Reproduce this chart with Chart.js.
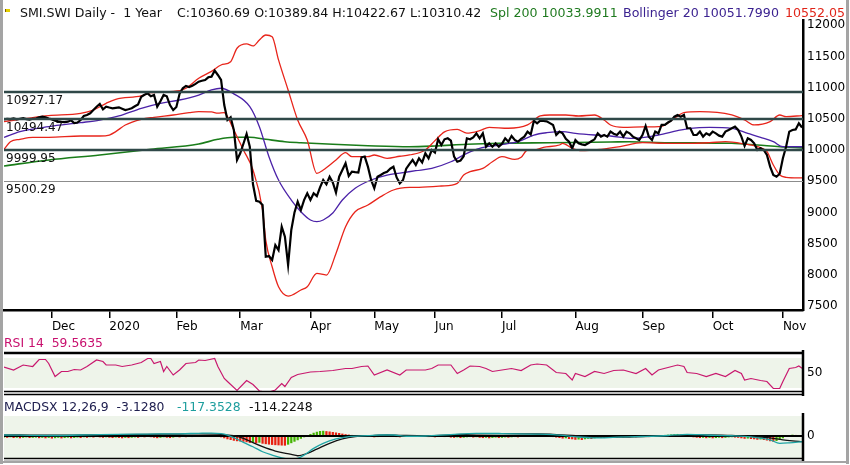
<!DOCTYPE html>
<html><head><meta charset="utf-8">
<script src="https://cdn.jsdelivr.net/npm/chart.js@4.4.0/dist/chart.umd.min.js"></script>
<style>
html,body{margin:0;padding:0;background:#fff;}
#wrap{position:relative;width:850px;height:465px;overflow:hidden;background:#fff;font-family:"DejaVu Sans",sans-serif;}
canvas{position:absolute;left:0;}
.t{position:absolute;font-size:12.6px;line-height:14px;white-space:pre;}
.b{position:absolute;background:#a4a4a4;}
</style></head>
<body><div id="wrap">
<canvas id="cMain" width="850" height="465" style="top:0"></canvas>
<canvas id="cRsi" width="850" height="90" style="top:330px"></canvas>
<canvas id="cMacd" width="850" height="90" style="top:390px"></canvas>
<div class="b" style="left:0;top:0;width:3px;height:464px"></div>
<div class="b" style="left:846px;top:0;width:3px;height:464px"></div>
<div class="b" style="left:0;top:461px;width:849px;height:2px"></div>
<div style="position:absolute;left:5px;top:9px;width:4px;height:3px;background:#e4d000;border-left:1px solid #806000"></div>
<div class="t" style="left:20px;top:6px;color:#111">SMI.SWI Daily -  1 Year</div>
<div class="t" style="left:177px;top:6px;color:#111">C:10360.69 O:10389.84 H:10422.67 L:10310.42</div>
<div class="t" style="left:490px;top:6px;color:#1f7a1f">Spl 200 10033.9911</div>
<div class="t" style="left:623px;top:6px;color:#3b2290">Bollinger 20 10051.7990</div>
<div class="t" style="left:785px;top:6px;color:#e02418">10552.05</div>
<div class="t" style="left:4px;top:336px;color:#c8106e;font-size:12.4px">RSI 14  59.5635</div>
<div class="t" style="left:4px;top:400px;color:#202050;font-size:12.4px">MACDSX 12,26,9  -3.1280</div>
<div class="t" style="left:177px;top:400px;color:#1e9e9e;font-size:12.4px">-117.3528</div>
<div class="t" style="left:249px;top:400px;color:#111;font-size:12.4px">-114.2248</div>
</div>
<script>
// ---------- DATA ----------
const monthLabels = ['Dec','2020','Feb','Mar','Apr','May','Jun','Jul','Aug','Sep','Oct','Nov'];
const monthStart  = [15,33,54,74,96,116,135,156,179,200,222,244];   // trading-day index of month start
const priceTicks  = [7500,8000,8500,9000,9500,10000,10500,11000,11500,12000];
const refLevels   = [10927.17,10494.47,9999.95,9500.29];

// daily close, trading day 0 .. 250
const closeVals = [
10490,10500,10495,10505,10490,10500,10510,10495,10485,10500,
10505,10525,10534,10525,10505,10490,10470,10458,10450,10448,
10454,10475,10432,10440,10480,10545,10561,10588,10640,10694,
10737,10650,10694,10680,10668,10676,10684,10662,10641,10652,
10668,10700,10730,10854,10885,10908,10860,10881,10694,10780,
10881,10860,10720,10641,10690,10900,10989,11026,11010,11030,
11060,11095,11110,11122,11165,11175,11271,11202,11122,10720,
10481,10524,10321,9840,9947,10100,10257,10053,9450,9185,
9172,9118,8290,8300,8237,8477,8397,8770,8610,8157,
8718,9000,9172,9038,9198,9306,9200,9306,9260,9400,
9519,9450,9572,9480,9316,9572,9680,9787,9583,9652,
9645,9640,9883,9895,9733,9520,9386,9572,9600,9630,
9652,9700,9733,9560,9466,9519,9700,9775,9840,9760,
9867,9800,9947,9867,10000,9960,10171,10080,10171,10187,
10149,9893,9812,9830,9900,10187,10171,10200,10267,10187,
10267,10053,10107,10053,10107,10053,10100,10187,10133,10224,
10160,10133,10180,10214,10294,10250,10470,10428,10470,10465,
10460,10430,10401,10240,10294,10267,10180,10133,10027,10160,
10107,10090,10080,10107,10140,10171,10267,10214,10240,10214,
10294,10260,10240,10294,10214,10294,10267,10214,10187,10160,
10240,10385,10214,10160,10294,10267,10401,10401,10440,10470,
10534,10561,10534,10561,10348,10348,10240,10240,10294,10214,
10267,10240,10294,10267,10230,10214,10294,10320,10348,10374,
10321,10214,10064,10187,10160,10107,10000,10027,10000,9920,
9733,9599,9572,9620,9867,10053,10294,10321,10330,10428,
10361];

// Bollinger 20 upper / lower / middle and 200-day average: [day, value]
const bbUpper = [[0,10454],[9,10520],[14,10550],[24,10588],[28,10641],[32,10748],[35,10812],[43,10866],[46,10918],[55,10951],[57,10989],[61,11149],[65,11260],[68,11362],[71,11415],[73,11630],[76,11699],[78,11667],[80,11763],[82,11843],[84,11816],[86,11443],[89,10962],[92,10481],[95,10160],[98,9626],[100,9679],[104,9840],[107,9957],[109,9893],[114,9893],[116,9920],[120,9867],[124,9900],[127,9920],[132,10000],[135,10150],[138,10290],[142,10330],[145,10270],[149,10310],[152,10364],[158,10348],[164,10401],[168,10545],[171,10561],[176,10561],[180,10545],[185,10561],[188,10481],[190,10401],[194,10364],[200,10370],[206,10380],[210,10508],[213,10598],[218,10614],[228,10561],[232,10481],[235,10401],[240,10454],[243,10561],[245,10534],[250,10552]];
const bbLower = [[0,10011],[2,10133],[5,10171],[9,10203],[14,10203],[24,10224],[30,10224],[33,10240],[35,10294],[38,10401],[43,10492],[47,10524],[53,10561],[58,10598],[61,10614],[65,10610],[67,10590],[69,10600],[70,10534],[72,10321],[75,10000],[78,9679],[81,9038],[82,8557],[84,8129],[86,7808],[89,7659],[93,7756],[95,7808],[98,8022],[101,7996],[104,8343],[107,8770],[110,9011],[114,9118],[118,9252],[122,9359],[127,9400],[130,9402],[137,9423],[142,9466],[144,9599],[146,9652],[150,9706],[153,9812],[156,9893],[160,9850],[162,9883],[164,10000],[166,10000],[169,10043],[174,10080],[175,10107],[178,10027],[181,9989],[187,10011],[193,10053],[200,10117],[208,10107],[215,10107],[221,10117],[226,10133],[232,10096],[236,10053],[239,9973],[241,9760],[243,9599],[245,9562],[250,9552]];
const bbMid = [[0,10203],[5,10294],[14,10374],[24,10438],[30,10480],[36,10545],[43,10668],[49,10748],[55,10801],[61,10881],[65,10962],[68,10989],[72,10900],[77,10694],[80,10374],[83,9893],[86,9519],[90,9198],[93,9011],[96,8878],[98,8851],[100,8878],[103,8990],[106,9198],[110,9386],[115,9519],[120,9599],[124,9630],[129,9668],[134,9706],[140,9812],[145,9947],[149,10027],[155,10080],[161,10133],[166,10240],[170,10277],[175,10294],[179,10267],[185,10240],[190,10224],[197,10187],[205,10240],[211,10310],[215,10348],[221,10364],[228,10348],[233,10267],[237,10203],[241,10133],[244,10053],[250,10052]];
const spl200 = [[0,9744],[14,9840],[30,9920],[46,10011],[61,10096],[67,10171],[72,10203],[77,10203],[82,10171],[88,10133],[93,10117],[103,10091],[114,10069],[127,10053],[135,10065],[145,10091],[155,10107],[171,10117],[190,10128],[196,10133],[208,10117],[228,10107],[236,10080],[243,10053],[250,10034]];

// RSI 14: [day, value]
const rsi14 = [[0,62],[3,56],[6,66],[9,63],[11,77],[13,77],[14,69],[16,43],[18,53],[20,53],[22,57],[24,56],[26,63],[29,76],[31,73],[32,66],[35,66],[37,63],[40,66],[43,71],[45,79],[46,79],[47,69],[49,73],[50,53],[51,63],[53,46],[55,56],[57,69],[60,71],[61,76],[63,75],[66,79],[67,63],[69,39],[70,33],[73,15],[76,35],[78,27],[80,14],[81,13],[83,12],[85,16],[87,29],[88,23],[90,41],[92,47],[96,52],[99,53],[103,55],[107,59],[109,59],[112,63],[114,64],[116,46],[120,56],[124,46],[126,56],[130,56],[132,56],[134,59],[136,66],[138,66],[140,66],[142,49],[144,56],[146,64],[149,63],[151,59],[153,53],[156,56],[159,59],[162,55],[165,66],[167,68],[170,66],[173,51],[176,49],[178,36],[179,49],[182,43],[185,53],[188,49],[191,55],[194,56],[198,49],[201,59],[203,46],[205,56],[208,61],[211,66],[213,63],[214,51],[217,49],[220,43],[223,49],[226,43],[229,55],[231,49],[232,36],[234,39],[237,35],[239,33],[241,19],[243,19],[244,33],[246,59],[248,61],[249,64],[250,59.6]];

// MACD 12,26,9: MACD line, signal line ([day, value]) and daily histogram
const macdLine = [[0,20],[15,10],[30,30],[45,40],[55,45],[61,55],[65,60],[68,50],[70,20],[72,-34],[75,-130],[78,-219],[81,-322],[84,-390],[87,-445],[90,-470],[92,-457],[94,-390],[97,-253],[100,-150],[104,-61],[108,-14],[114,6],[118,20],[122,20],[126,-5],[132,0],[140,30],[148,55],[156,50],[165,40],[172,30],[180,-20],[185,-40],[192,-25],[200,-10],[208,10],[214,35],[220,20],[228,5],[234,-20],[240,-80],[243,-150],[246,-140],[250,-117]];
const macdSignal = [[0,25],[15,15],[30,25],[45,35],[55,40],[61,45],[68,35],[72,6],[75,-47],[78,-137],[81,-219],[85,-308],[90,-376],[92,-404],[95,-355],[98,-267],[102,-150],[106,-61],[110,-14],[115,6],[120,20],[126,10],[132,5],[140,20],[148,45],[156,48],[165,42],[172,35],[180,0],[185,-25],[192,-25],[200,-12],[208,0],[214,20],[220,22],[228,10],[234,-5],[240,-40],[244,-80],[247,-100],[250,-114]];
const macdHist = [
-25,-30,-20,-35,-28,-40,-30,-22,-35,-30,
-25,-38,-30,-40,-32,-45,-38,-30,-42,-35,
-28,-40,-33,-25,-35,-20,-30,-18,-25,-15,
-22,-30,-20,-28,-35,-25,-32,-40,-30,-36,
-28,-22,-30,-15,-20,-10,-18,-28,-38,-30,
-20,-28,-35,-25,-15,-22,-10,-18,-8,-15,
-5,-12,5,-3,8,2,10,-5,-20,-40,
-60,-75,-90,-100,-105,-110,-120,-135,-125,-140,
-130,-150,-160,-168,-175,-180,-184,-188,-190,-170,
-140,-110,-80,-50,-20,10,35,60,80,95,
100,92,85,75,65,55,42,30,22,15,
10,5,12,8,0,-10,-20,-15,-10,-5,
-8,-12,-10,-15,-20,-12,-5,0,5,10,
5,-10,-5,-15,-8,-20,-12,-5,-15,-10,
-25,-30,-22,-35,-28,-20,-15,-25,-18,-30,
-35,-28,-40,-32,-25,-35,-30,-22,-28,-20,
-15,-22,-12,-5,-10,5,15,10,20,12,
5,-5,-15,-25,-35,-45,-40,-55,-60,-70,
-65,-75,-60,-50,-55,-40,-30,-35,-25,-20,
-28,-18,-25,-15,-22,-12,-20,-10,-18,-8,
-12,-5,-15,-8,-2,5,10,15,20,25,
30,35,25,15,5,-10,-20,-28,-35,-30,
-38,-32,-40,-35,-28,-36,-30,-22,-18,-25,
-30,-40,-50,-45,-55,-60,-70,-65,-75,-85,
-100,-110,-95,-70,-40,-10,10,20,15,8,
-3];

// ---------- CHARTS ----------
Chart.defaults.font.family = '"DejaVu Sans", sans-serif';
Chart.defaults.font.size = 12;
Chart.defaults.color = '#000';
const XMAX = 250.3;
const FONT = {family:'"DejaVu Sans", sans-serif', size:12};
const pts = arr => arr.map(([x, y]) => ({x, y}));
const base = {responsive:false, animation:false, events:[], plugins:{legend:{display:false}, tooltip:{enabled:false}}};
const hiddenX = {type:'linear', min:0, max:XMAX, bounds:'data', display:false, offset:false};
function rightY(min, max, tickVals, showBorder) {
  return {
    type:'linear', position:'right', min, max, bounds:'data',
    afterBuildTicks: s => { s.ticks = tickVals.map(v => ({value:v})); },
    afterFit: s => { s.width = 47; },
    ticks:{padding:4, color:'#000', font:FONT, callback: v => String(v)},
    grid:{display:false, drawTicks:false},
    border:{display:showBorder, color:'#000', width:2.5}
  };
}

const refPlugin = {
  id:'refLines',
  afterDatasetsDraw(chart) {
    const {ctx, chartArea:a, scales:{y}} = chart;
    ctx.save();
    refLevels.forEach((v, k) => {
      const py = Math.round(y.getPixelForValue(v));
      const thin = k === refLevels.length - 1;
      ctx.strokeStyle = thin ? '#8c8c8c' : '#2f4848';
      ctx.lineWidth = thin ? 1 : 2.5;
      ctx.beginPath(); ctx.moveTo(a.left, py + (thin ? 0.5 : 0)); ctx.lineTo(a.right, py + (thin ? 0.5 : 0)); ctx.stroke();
      ctx.fillStyle = '#111'; ctx.font = '12px "DejaVu Sans"'; ctx.textBaseline = 'middle'; ctx.textAlign = 'left';
      ctx.fillText(v.toFixed(2), a.left + 2, py + 9);
    });
    ctx.restore();
  }
};

new Chart(document.getElementById('cMain'), {
  type:'line',
  data:{datasets:[
    {data:closeVals.map((y, x) => ({x, y})), borderColor:'#000', borderWidth:2.2, pointRadius:0, tension:0},
    {data:pts(bbUpper), borderColor:'#e8251b', borderWidth:1.3, pointRadius:0, cubicInterpolationMode:'monotone'},
    {data:pts(bbLower), borderColor:'#e8251b', borderWidth:1.3, pointRadius:0, cubicInterpolationMode:'monotone'},
    {data:pts(bbMid), borderColor:'#4b22a8', borderWidth:1.3, pointRadius:0, cubicInterpolationMode:'monotone'},
    {data:pts(spl200), borderColor:'#1a7d1a', borderWidth:1.6, pointRadius:0, cubicInterpolationMode:'monotone'}
  ]},
  options:Object.assign({}, base, {
    layout:{padding:{top:20, left:4, right:0, bottom:125}},
    scales:{
      x:{type:'linear', min:0, max:XMAX, bounds:'data', position:'bottom', offset:false,
         afterBuildTicks: s => { s.ticks = monthStart.map(v => ({value:v})); },
         afterFit: s => { s.height = 30; },
         ticks:{autoSkip:false, maxRotation:0, minRotation:0, align:'start', padding:2, color:'#000', font:FONT,
                callback:(v, i) => monthLabels[i]},
         grid:{drawOnChartArea:false, drawTicks:true, tickLength:8, color:'#000', lineWidth:1.5},
         border:{display:true, color:'#000', width:2.5}},
      y:rightY(7436, 12083, priceTicks, true)
    }
  }),
  plugins:[refPlugin]
});

// pane frame helper
function paneFrame(ctx, a, opts) {
  ctx.save();
  ctx.strokeStyle = '#000';
  if (opts.top) { ctx.lineWidth = 2.5; ctx.beginPath(); ctx.moveTo(a.left, a.top - 1); ctx.lineTo(a.right, a.top - 1); ctx.stroke(); }
  ctx.lineWidth = 1.6;
  ctx.beginPath(); ctx.moveTo(a.left, a.bottom - 0.5); ctx.lineTo(a.right, a.bottom - 0.5); ctx.stroke();
  ctx.beginPath(); ctx.moveTo(a.left, a.bottom + 2.5); ctx.lineTo(a.right, a.bottom + 2.5); ctx.stroke();
  ctx.lineWidth = 2.5;
  ctx.beginPath(); ctx.moveTo(a.right, a.top - opts.ext); ctx.lineTo(a.right, a.bottom + 4); ctx.stroke();
  ctx.restore();
}

const rsiPlugin = {
  id:'rsiPane',
  beforeDatasetsDraw(chart) {
    const {ctx, chartArea:a, scales:{y}} = chart;
    const y1 = y.getPixelForValue(80), y2 = y.getPixelForValue(20);
    ctx.save(); ctx.fillStyle = '#eef4ea'; ctx.fillRect(a.left, y1, a.right - a.left, y2 - y1); ctx.restore();
  },
  afterDatasetsDraw(chart) { paneFrame(chart.ctx, chart.chartArea, {top:true, ext:4}); }
};

// RSI canvas sits at page y=330: chart area 354..392
new Chart(document.getElementById('cRsi'), {
  type:'line',
  data:{datasets:[{data:pts(rsi14), borderColor:'#c8186e', borderWidth:1.2, pointRadius:0, tension:0}]},
  options:Object.assign({}, base, {
    layout:{padding:{top:24, left:4, right:0, bottom:28}},
    scales:{x:hiddenX, y:rightY(12, 88, [50], false)}
  }),
  plugins:[rsiPlugin]
});

const histUp = '#44b400', histDown = '#e82010';
const macdPlugin = {
  id:'macdPane',
  beforeDatasetsDraw(chart) {
    const {ctx, chartArea:a} = chart;
    ctx.save(); ctx.fillStyle = '#eef4ea'; ctx.fillRect(a.left, a.top + 3, a.right - a.left, a.bottom - a.top - 4); ctx.restore();
  },
  afterDatasetDraw(chart, args) {
    if (args.index !== 2) return;
    const {ctx, chartArea:a, scales:{y}} = chart;
    const py = Math.round(y.getPixelForValue(0));
    ctx.save(); ctx.strokeStyle = '#000'; ctx.lineWidth = 2;
    ctx.beginPath(); ctx.moveTo(a.left, py); ctx.lineTo(a.right, py); ctx.stroke(); ctx.restore();
  },
  afterDatasetsDraw(chart) { paneFrame(chart.ctx, chart.chartArea, {top:false, ext:0}); }
};

// MACD canvas sits at page y=390: chart area 413..459
new Chart(document.getElementById('cMacd'), {
  type:'line',
  data:{datasets:[
    {data:pts(macdLine), borderColor:'#1fa5a5', borderWidth:1.3, pointRadius:0, cubicInterpolationMode:'monotone'},
    {data:pts(macdSignal), borderColor:'#111', borderWidth:1.3, pointRadius:0, cubicInterpolationMode:'monotone'},
    {type:'bar', data:macdHist.map((y, x) => ({x, y})), barThickness:1.6, borderWidth:0,
     backgroundColor: c => (c.dataIndex > 0 && macdHist[c.dataIndex] < macdHist[c.dataIndex - 1]) ? histDown : histUp}
  ]},
  options:Object.assign({}, base, {
    layout:{padding:{top:23, left:4, right:0, bottom:21}},
    scales:{x:hiddenX, y:rightY(-470, 470, [0], false)}
  }),
  plugins:[macdPlugin]
});
</script>
</body></html>
